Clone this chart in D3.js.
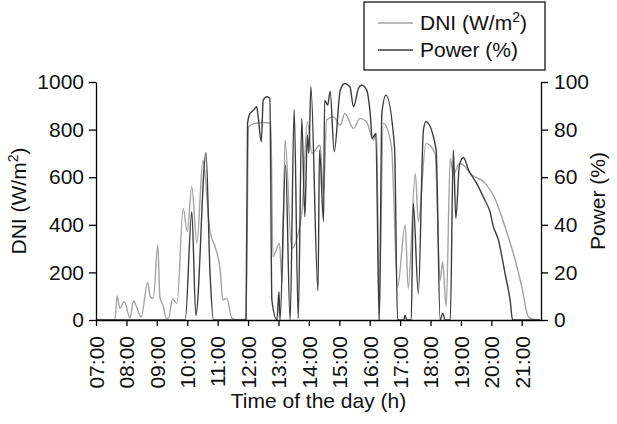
<!DOCTYPE html>
<html>
<head>
<meta charset="utf-8">
<script src="https://cdn.jsdelivr.net/npm/d3@7"></script>
<style>
  body { margin: 0; background: #fff; }
  svg { font-family: "Liberation Sans", Arial, sans-serif; }
</style>
</head>
<body>
<div id="chart"></div>
<script>
// DNI (W/m2)
var dniTimes = ["07:00","07:37","07:42","07:47","07:56","08:07","08:14","08:20","08:29","08:42","08:47","08:53",
    "09:02","09:06","09:13","09:18","09:23","09:31","09:40","09:52","10:00","10:09","10:19","10:31","10:45","10:55",
    "11:05","11:10","11:18","11:28","11:40","11:56","12:01","12:14","12:30","12:45","12:49","13:02","13:07","13:13",
    "13:26","13:46","13:57","14:06","14:22","14:29","14:35","14:48","15:02","15:11","15:28","15:41","15:54","16:07",
    "16:14","16:18","16:27","16:43","16:55","17:10","17:16","17:30","17:36","17:51","18:09","18:19","18:24","18:31",
    "18:39","18:45","18:57","19:05","19:18","19:48","20:07","20:27","20:47","21:00","21:13","21:23","21:32","21:36"];
var dniValues = [0,0,101,49,77,8,80,56,12,158,98,91,
    315,98,56,8,8,87,70,469,371,560,322,670,371,308,
    210,84,91,8,0,5,812,826,830,826,266,322,161,756,
    301,448,833,700,735,532,840,854,819,868,805,847,833,756,
    784,0,826,728,140,399,133,616,413,742,700,168,245,56,
    679,610,658,651,616,574,511,392,252,140,14,3,0,0];

// Power (%)
var powerTimes = ["07:00","09:56","10:09","10:17","10:37","10:45","10:52","11:56","11:59","12:04","12:11","12:17",
    "12:20","12:26","12:30","12:37","12:43","12:47","12:57","13:01","13:03","13:14","13:23","13:31","13:39","13:46",
    "13:52","13:57","14:00","14:04","14:18","14:21","14:29","14:31","14:37","14:42","14:50","15:02","15:11","15:21",
    "15:28","15:38","15:44","15:54","16:01","16:05","16:12","16:19","16:24","16:32","16:49","16:55","17:07","17:10",
    "17:13","17:22","17:26","17:36","17:46","17:51","18:11","18:19","18:24","18:29","18:39","18:45","18:50","18:57",
    "19:05","19:15","19:31","19:41","19:48","19:58","20:03","20:14","20:27","20:37","20:42","21:36"];
var powerValues = [0,0,45.5,2,70.3,19.6,0,0,82.6,86.8,88.2,89.6,
    85.4,74.9,92.4,93.8,93.1,8.4,0,11.9,0,65.1,0,88.5,0.7,84.7,
    43.4,77.7,70,98,12.3,71.4,41.3,92.4,90.3,96,70.7,96.6,99.4,98,
    89.6,97.4,98.7,96.6,86.8,76.3,78.4,0,86.8,94.5,72.8,0,0,2,
    0,0,49,11.2,79.8,83.3,71.7,0,2.8,0,0,71.4,42.7,65.1,
    68.3,63,57.4,53.2,50,45,40,33.6,19.6,8.4,0,0];

var hourTicks = ["07:00","08:00","09:00","10:00","11:00","12:00","13:00","14:00",
    "15:00","16:00","17:00","18:00","19:00","20:00","21:00"];
var dniTicks = [0, 200, 400, 600, 800, 1000];
var powerTicks = [0, 20, 40, 60, 80, 100];

var width = 617;
var height = 424;
// plot box (window.top is reserved, so no plain "top")
var mLeft = 96, mRight = 541, mTop = 82, mBottom = 320;

//turn "HH:MM" into minutes of the day
function toMin(t) {
    var p = t.split(":");
    return +p[0] * 60 + +p[1];
}

var svg = d3.select("#chart").append("svg")
    .attr("width", width)
    .attr("height", height);

var x = d3.scaleLinear().domain([toMin("07:00"), toMin("21:38")]).range([mLeft, mRight]);
var yDni = d3.scaleLinear().domain([0, 1000]).range([mBottom, mTop]);
var yPow = d3.scaleLinear().domain([0, 100]).range([mBottom, mTop]);

var dni = dniTimes.map(function (t, i) { return {t: toMin(t), v: dniValues[i]}; });
var power = powerTimes.map(function (t, i) { return {t: toMin(t), v: powerValues[i]}; });

/* the two curves */
var dniLine = d3.line()
    .x(function (d) { return x(d.t); })
    .y(function (d) { return yDni(d.v); })
    .curve(d3.curveMonotoneX);

var powLine = d3.line()
    .x(function (d) { return x(d.t); })
    .y(function (d) { return yPow(d.v); })
    .curve(d3.curveMonotoneX);

svg.append("path")
    .datum(dni)
    .attr("d", dniLine)
    .attr("fill", "none")
    .attr("stroke", "#a3a3a3")
    .attr("stroke-width", 1.4);

svg.append("path")
    .datum(power)
    .attr("d", powLine)
    .attr("fill", "none")
    .attr("stroke", "#3c3c3c")
    .attr("stroke-width", 1.4);

/* axes */
function styleAxis(g) {
    g.selectAll("path, line").attr("stroke", "#000").attr("stroke-width", 1.3);
    g.selectAll("text").attr("font-size", "21px").attr("fill", "#111")
        .attr("font-family", "'Liberation Sans', Arial, sans-serif");
}

var xAxis = svg.append("g")
    .attr("transform", "translate(0," + mBottom + ")")
    .call(d3.axisBottom(x)
        .tickValues(hourTicks.map(toMin))
        .tickFormat(function (d, i) { return hourTicks[i]; })
        .tickSize(6)
        .tickSizeOuter(0))
    .call(styleAxis);

xAxis.selectAll("text")
    .attr("transform", "rotate(-90)")
    .attr("text-anchor", "end")
    .attr("x", -16)
    .attr("y", 0)
    .attr("dy", "0.35em");

svg.append("g")
    .attr("transform", "translate(" + mLeft + ",0)")
    .call(d3.axisLeft(yDni).tickValues(dniTicks).tickFormat(d3.format("d"))
        .tickSize(7).tickSizeOuter(0).tickPadding(5))
    .call(styleAxis);

svg.append("g")
    .attr("transform", "translate(" + mRight + ",0)")
    .call(d3.axisRight(yPow).tickValues(powerTicks).tickFormat(d3.format("d"))
        .tickSize(7).tickSizeOuter(0).tickPadding(6))
    .call(styleAxis);

/* axis titles */
svg.append("text")
    .attr("x", (mLeft + mRight) / 2)
    .attr("y", 408)
    .attr("text-anchor", "middle")
    .attr("font-size", "21px")
    .attr("fill", "#111")
    .text("Time of the day (h)");

var yTitle = svg.append("text")
    .attr("transform", "translate(26," + (mTop + mBottom) / 2 + ") rotate(-90)")
    .attr("text-anchor", "middle")
    .attr("font-size", "21px")
    .attr("fill", "#111");
yTitle.append("tspan").text("DNI (W/m");
yTitle.append("tspan").attr("dy", -8).attr("font-size", "14px").text("2");
yTitle.append("tspan").attr("dy", 8).text(")");

svg.append("text")
    .attr("transform", "translate(605," + (mTop + mBottom) / 2 + ") rotate(-90)")
    .attr("text-anchor", "middle")
    .attr("font-size", "21px")
    .attr("fill", "#111")
    .text("Power (%)");

/* legend */
var legend = svg.append("g");
legend.append("rect")
    .attr("x", 364).attr("y", 2)
    .attr("width", 181).attr("height", 68)
    .attr("fill", "#fff")
    .attr("stroke", "#000")
    .attr("stroke-width", 1.2);

var legendRows = [
    {color: "#a3a3a3", y: 23},
    {color: "#3c3c3c", y: 50}
];
legend.selectAll("line.key")
    .data(legendRows)
    .enter()
    .append("line")
    .attr("x1", 378).attr("x2", 413)
    .attr("y1", function (d) { return d.y; })
    .attr("y2", function (d) { return d.y; })
    .attr("stroke", function (d) { return d.color; })
    .attr("stroke-width", 1.4);

var l1 = legend.append("text")
    .attr("x", 420).attr("y", 30)
    .attr("font-size", "21px").attr("fill", "#111");
l1.append("tspan").text("DNI (W/m");
l1.append("tspan").attr("dy", -8).attr("font-size", "14px").text("2");
l1.append("tspan").attr("dy", 8).text(")");

legend.append("text")
    .attr("x", 420).attr("y", 57)
    .attr("font-size", "21px").attr("fill", "#111")
    .text("Power (%)");
</script>
</body>
</html>
